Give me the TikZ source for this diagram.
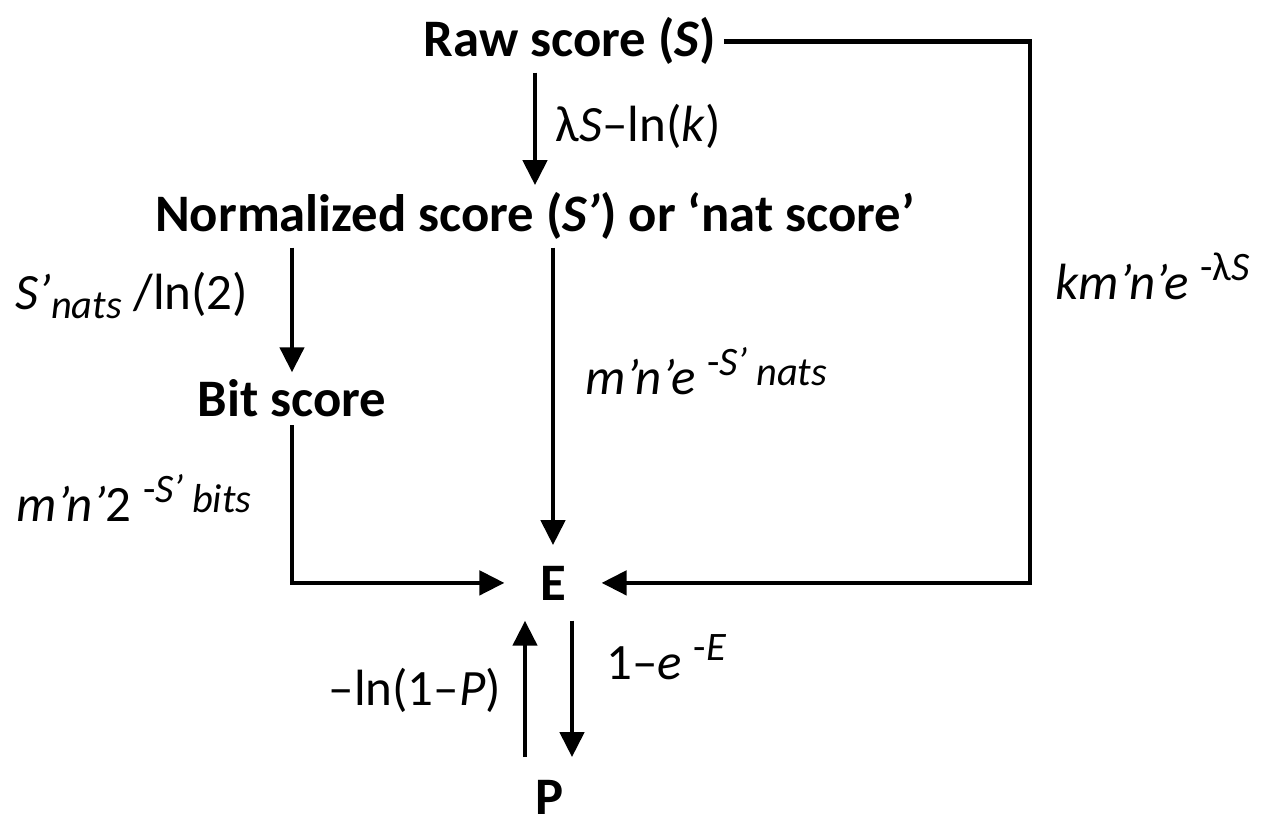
\documentclass[tikz,border=0pt]{standalone}
\usepackage{fontspec}
\setmainfont{Carlito}
\usetikzlibrary{arrows.meta, positioning, calc}

\tikzset{
  score/.style={font=\fontsize{15}{17}\selectfont\bfseries, inner sep=2pt},
  formula/.style={font=\fontsize{14.5}{16}\selectfont, inner sep=0pt, anchor=base west},
  arr/.style={line width=1.3pt, -{Triangle[length=0.25cm, width=0.24cm]}},
  link/.style={line width=1.3pt}
}
\newcommand{\supx}[1]{\raisebox{0.8ex}{\fontsize{11.5}{12}\selectfont #1}}
\newcommand{\subx}[1]{\raisebox{-0.35ex}{\fontsize{11.5}{12}\selectfont #1}}

\begin{document}
\begin{tikzpicture}
  \useasboundingbox (0,0) rectangle (12.75,-8.23);

  % score nodes
  \node[score, anchor=base] (raw) at (5.70,-0.57) {Raw score (\textit{S})};
  \node[score, anchor=base] (nat) at (5.35,-2.32) {Normalized score (\textit{S’}) or ‘nat score’};
  \node[score, anchor=base] (bit) at (2.92,-4.17) {Bit score};
  \node[score, anchor=base, inner xsep=0.35cm, inner ysep=0.2cm] (E) at (5.53,-6.00) {E};
  \node[score, anchor=base, inner ysep=0.22cm] (P) at (5.50,-8.14) {P};
  \coordinate (rc) at (10.30,0);

  % conversions
  \draw[arr] (raw.south -| nat.north) -- (nat.north);
  \draw[arr] (nat.south -| bit.north) -- (bit.north);
  \draw[arr] (nat.south -| E.north) -- (E.north);
  \draw[arr] (bit.south) |- (E.west);
  \draw[arr] (raw.east) -| (rc |- E.east) -- (E.east);
  \draw[arr] ([xshift=-0.28cm]E.south |- P.north) -- ([xshift=-0.28cm]E.south);
  \draw[arr] ([xshift=0.19cm]E.south) -- ([xshift=0.19cm]E.south |- P.north);

  % formulas
  \node[formula] (f1) at (5.55,-1.42) {λ\textit{S}–ln(\textit{k})};
  \node[formula] (f2) at (0.15,-3.10) {\textit{S’}\subx{\textit{nats}} /ln(2)};
  \node[formula] (f3) at (5.85,-3.95) {\textit{m’n’e} \supx{-\textit{S’}}\,\supx{\raisebox{-0.5ex}{\textit{nats}}}};
  \node[formula] (f4) at (10.55,-3.00) {\textit{km’n’e} \supx{-λ\textit{S}}};
  \node[formula] (f5) at (0.16,-5.22) {\textit{m’n’}2 \supx{-\textit{S’}}\,\supx{\raisebox{-0.5ex}{\textit{bits}}}};
  \node[formula] (f6) at (3.28,-7.05) {–ln(1–\textit{P})};
  \node[formula] (f7) at (6.06,-6.80) {1–\textit{e} \supx{-\textit{E}}};
\end{tikzpicture}
\end{document}
